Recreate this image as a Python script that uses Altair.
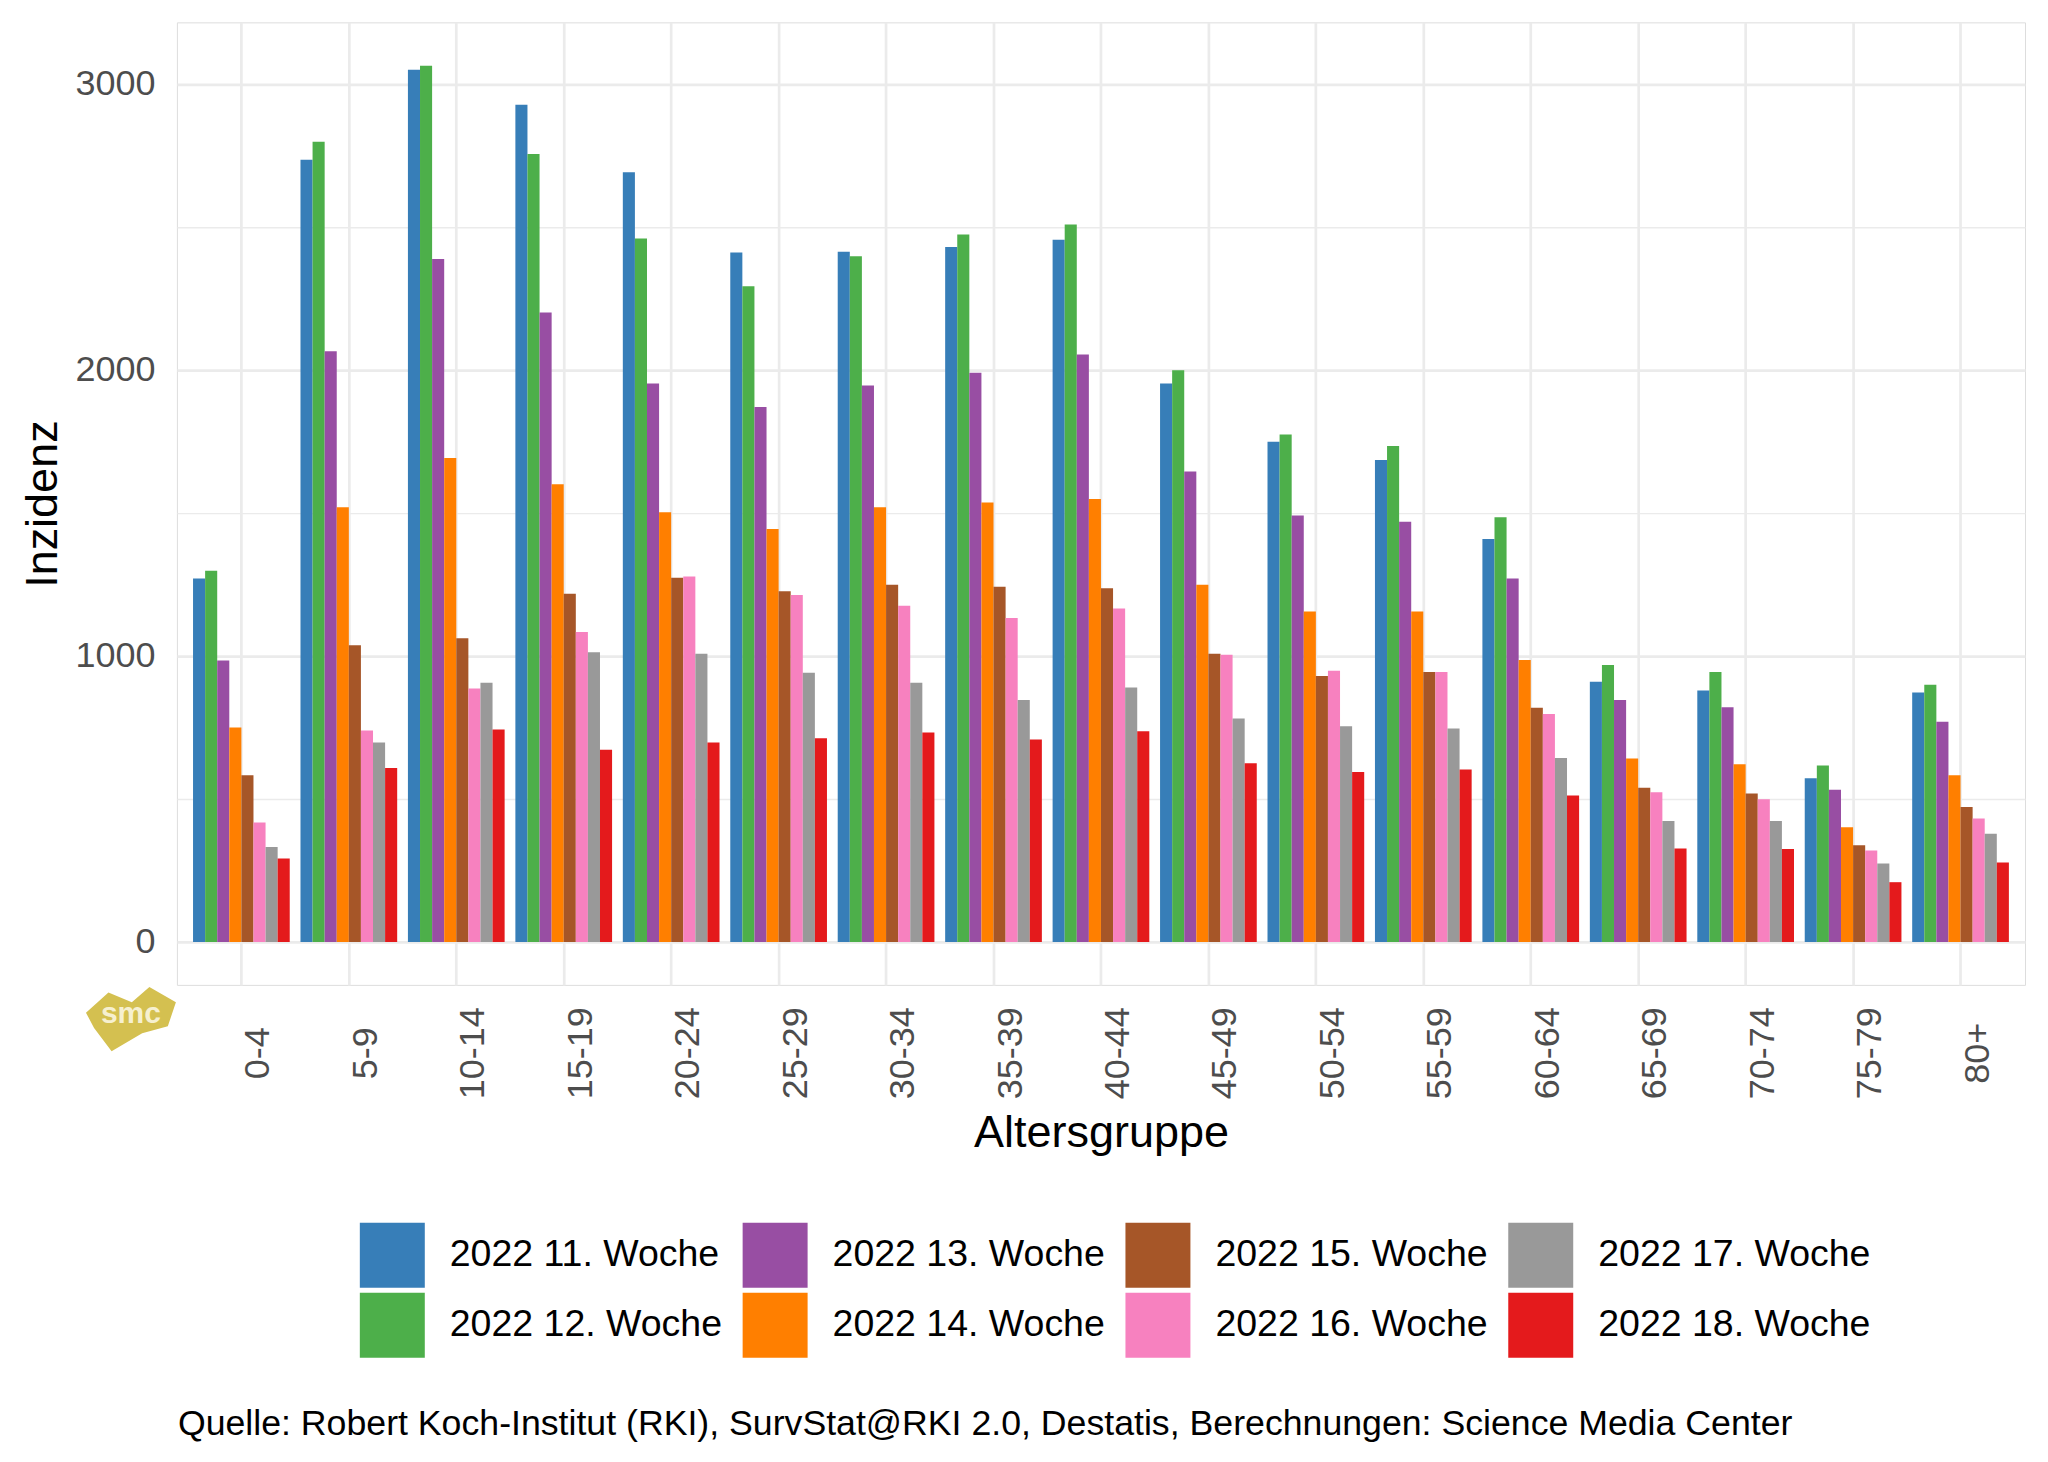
import altair as alt
import pandas as pd

age_groups = ["0-4", "5-9", "10-14", "15-19", "20-24", "25-29", "30-34", "35-39",
              "40-44", "45-49", "50-54", "55-59", "60-64", "65-69", "70-74", "75-79", "80+"]
weeks = ["2022 11. Woche", "2022 12. Woche", "2022 13. Woche", "2022 14. Woche",
         "2022 15. Woche", "2022 16. Woche", "2022 17. Woche", "2022 18. Woche"]
week_colors = ["#377EB8", "#4DAF4A", "#984EA3", "#FF7F00",
               "#A65628", "#F781BF", "#999999", "#E41A1C"]

w11 = [1271, 2735, 3049, 2927, 2691, 2410, 2413, 2430, 2455, 1952, 1749, 1685, 1409, 910, 879, 572, 872]
w12 = [1298, 2798, 3063, 2755, 2459, 2292, 2397, 2473, 2508, 1999, 1774, 1734, 1485, 968, 944, 617, 899]
w13 = [984, 2065, 2388, 2201, 1952, 1870, 1945, 1990, 2054, 1645, 1491, 1469, 1271, 846, 821, 532, 770]
w14 = [750, 1520, 1692, 1600, 1502, 1444, 1520, 1536, 1549, 1249, 1155, 1155, 986, 641, 621, 401, 583]
w15 = [583, 1037, 1062, 1217, 1273, 1226, 1249, 1242, 1237, 1008, 930, 944, 819, 539, 519, 338, 472]
w16 = [418, 739, 886, 1084, 1278, 1213, 1175, 1133, 1166, 1004, 948, 944, 797, 523, 499, 320, 432]
w17 = [332, 697, 906, 1013, 1008, 941, 906, 846, 890, 781, 754, 746, 643, 423, 423, 274, 378]
w18 = [292, 608, 743, 672, 697, 712, 732, 708, 737, 625, 594, 603, 512, 327, 325, 209, 278]

series = [w11, w12, w13, w14, w15, w16, w17, w18]
y_ticks = [0, 500, 1000, 1500, 2000, 2500, 3000]
caption_text = "Quelle: Robert Koch-Institut (RKI), SurvStat@RKI 2.0, Destatis, Berechnungen: Science Media Center"

rows = []
for wk, vals in zip(weeks, series):
    for ag, v in zip(age_groups, vals):
        rows.append({"Altersgruppe": ag, "Woche": wk, "Inzidenz": v})
df = pd.DataFrame(rows)

# legend order: column-major in a 4x2 grid
legend_order = [weeks[i] for i in [0, 2, 4, 6, 1, 3, 5, 7]]
legend_colors = [week_colors[i] for i in [0, 2, 4, 6, 1, 3, 5, 7]]

FONT = "Liberation Sans"
GRID = "#EBEBEB"

bars = alt.Chart(df).mark_bar().encode(
    x=alt.X("Altersgruppe:N", sort=age_groups,
            scale=alt.Scale(paddingInner=0.1, paddingOuter=0.15),
            axis=alt.Axis(title="Altersgruppe", labelAngle=270, labelAlign="center",
                          labelBaseline="top", labelPadding=68, ticks=False, domain=False,
                          grid=True, gridColor=GRID, gridWidth=2.7, bandPosition=0.5,
                          labelFontSize=36, labelColor="#4D4D4D",
                          titleFontSize=45, titleColor="black", titleFontWeight="normal",
                          titlePadding=12)),
    xOffset=alt.XOffset("Woche:N", sort=weeks,
                        scale=alt.Scale(paddingInner=0, paddingOuter=0)),
    y=alt.Y("Inzidenz:Q",
            scale=alt.Scale(domain=[-150, 3215], nice=False, zero=False),
            axis=alt.Axis(title="Inzidenz", values=y_ticks, format="d",
                          labelExpr="datum.value % 1000 == 0 ? datum.label : ''",
                          ticks=False, domain=False, grid=True, gridColor=GRID,
                          gridWidth={"expr": "datum.value % 1000 == 0 ? 2.7 : 1.4"},
                          labelFontSize=36, labelColor="#4D4D4D", labelPadding=22,
                          titleFontSize=45, titleColor="black", titleFontWeight="normal",
                          titlePadding=9)),
    color=alt.Color("Woche:N",
                    scale=alt.Scale(domain=legend_order, range=legend_colors),
                    legend=alt.Legend(title=None, orient="none", legendX=183, legendY=1201,
                                      columns=4, direction="horizontal",
                                      symbolType="square", symbolSize=4225,
                                      symbolStrokeWidth=0, labelFontSize=37.5,
                                      labelColor="black", labelOffset=25,
                                      columnPadding=20, rowPadding=5, padding=0,
                                      labelLimit=400)),
)

cap_df = pd.DataFrame({"t": [caption_text]})
caption = alt.Chart(cap_df).mark_text(
    align="left", baseline="alphabetic", fontSize=35.7, color="black", font=FONT
).encode(text="t:N", x=alt.value(1), y=alt.value(1413))

logo_df = pd.DataFrame({"t": ["smc"]})
logo_shape = alt.Chart(logo_df).mark_point(
    filled=True, color="#D4C050", opacity=1, size=8100,
    shape="M -1 -0.16 L -0.5 -0.61 L 0.02 -0.39 L 0.41 -0.73 L 1 -0.39 L 0.82 0.14 L 0.25 0.3 L -0.43 0.7 L -0.82 0.18 Z"
).encode(x=alt.value(-46), y=alt.value(998))
logo_text = alt.Chart(logo_df).mark_text(
    fontSize=30, fontWeight="bold", color="#F6F0D0", font=FONT, baseline="middle", align="center"
).encode(text="t:N", x=alt.value(-46), y=alt.value(992))

chart = alt.layer(bars, caption, logo_shape, logo_text).properties(
    width=1849, height=963,
    autosize=alt.AutoSizeParams(type="none"),
    padding={"left": 169, "top": 14, "right": 15, "bottom": 475},
).configure_view(stroke=None).configure(
    font=FONT
).configure_axis(labelFont=FONT, titleFont=FONT).configure_legend(labelFont=FONT)

chart.save("out.html", embed_options={"renderer": "svg", "actions": False})
